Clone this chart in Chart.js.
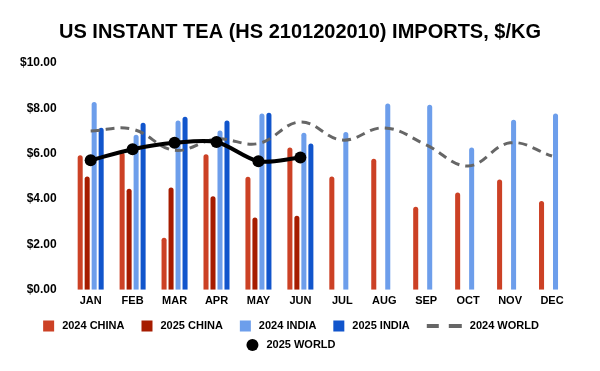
<!DOCTYPE html>
<html>
<head>
<meta charset="utf-8">
<script src="https://cdn.jsdelivr.net/npm/chart.js@4.4.1/dist/chart.umd.min.js"></script>
<style>
  html, body { margin: 0; padding: 0; background: #fff; }
  #wrap { width: 600px; height: 371px; }
</style>
</head>
<body>
<div id="wrap"><canvas id="teaChart"></canvas></div>
<script>
var months = ['JAN', 'FEB', 'MAR', 'APR', 'MAY', 'JUN', 'JUL', 'AUG', 'SEP', 'OCT', 'NOV', 'DEC'];
var china2024 = [5.93, 6.05, 2.3, 5.98, 4.98, 6.27, 5.0, 5.78, 3.66, 4.29, 4.86, 3.92];
var china2025 = [5.0, 4.46, 4.51, 4.13, 3.19, 3.27, null, null, null, null, null, null];
var india2024 = [8.28, 6.84, 7.46, 7.02, 7.77, 6.93, 6.96, 8.21, 8.16, 6.27, 7.5, 7.77];
var india2025 = [7.14, 7.37, 7.63, 7.46, 7.81, 6.45, null, null, null, null, null, null];
var world2024 = [7.0, 7.08, 6.15, 6.65, 6.45, 7.4, 6.6, 7.14, 6.39, 5.46, 6.48, 5.9];
var world2025 = [5.71, 6.2, 6.48, 6.52, 5.67, 5.83, null, null, null, null, null, null];
var yTicks = [0, 2, 4, 6, 8, 10];

var fontFam = "'Liberation Sans', Arial, sans-serif";

function barSet(label, data, color) {
    return {
        label: label,
        data: data,
        backgroundColor: color,
        borderRadius: { topLeft: 3, topRight: 3 },
        borderSkipped: 'bottom',
        order: 3
    };
}

// keep the title centred on the whole canvas
var titleCenter = {
    id: 'titleCenter',
    afterLayout: function (chart) {
        var t = chart.titleBlock;
        t.left = 0;
        t.right = chart.width;
        t.width = chart.width;
    }
};

// legend drawn by hand so each key can have its own width
var bottomLegend = {
    id: 'bottomLegend',
    afterDraw: function (chart) {
        var g = chart.ctx;
        var sets = chart.data.datasets;
        var rows = [[0, 1, 2, 3, 4], [5]];
        var rowY = [326, 345];
        g.save();
        g.font = 'bold 11px ' + fontFam;
        g.textBaseline = 'middle';
        g.textAlign = 'left';
        rows.forEach(function (row, r) {
            var widths = row.map(function (i) {
                var iw = sets[i].type === 'line' ? (sets[i].borderDash ? 35 : 12) : 11;
                return { icon: iw, text: g.measureText(sets[i].label).width };
            });
            var total = 0;
            widths.forEach(function (w, k) { total += w.icon + 8 + w.text + (k ? 17 : 0); });
            var x = chart.width / 2 - 9 - total / 2;
            var y = rowY[r];
            row.forEach(function (i, k) {
                var ds = sets[i];
                var w = widths[k];
                if (ds.type !== 'line') {
                    g.fillStyle = ds.backgroundColor;
                    g.fillRect(x, y - 5.5, 11, 11);
                } else if (ds.borderDash) {
                    g.fillStyle = ds.borderColor;
                    g.fillRect(x, y - 2, 12, 4);
                    g.fillRect(x + 22, y - 2, 13, 4);
                } else {
                    g.fillStyle = ds.borderColor;
                    g.beginPath();
                    g.arc(x + 6, y, 6, 0, Math.PI * 2);
                    g.fill();
                }
                g.fillStyle = '#000';
                g.fillText(ds.label, x + w.icon + 8, y);
                x += w.icon + 8 + w.text + 17;
            });
        });
        g.restore();
    }
};

var ctx = document.getElementById('teaChart');
var myChart = new Chart(ctx, {
    type: 'bar',
    data: {
        labels: months,
        datasets: [
            barSet('2024 CHINA', china2024, '#cc4125'),
            barSet('2025 CHINA', china2025, '#a61c00'),
            barSet('2024 INDIA', india2024, '#6d9eeb'),
            barSet('2025 INDIA', india2025, '#1155cc'),
            {
                type: 'line',
                label: '2024 WORLD',
                data: world2024,
                borderColor: '#666666',
                backgroundColor: '#666666',
                borderWidth: 3,
                borderDash: [9, 6],
                pointRadius: 0,
                tension: 0.4,
                fill: false,
                order: 2
            },
            {
                type: 'line',
                label: '2025 WORLD',
                data: world2025,
                borderColor: '#000000',
                backgroundColor: '#000000',
                borderWidth: 4,
                pointRadius: 6,
                pointBackgroundColor: '#000000',
                pointBorderWidth: 0,
                tension: 0.3,
                fill: false,
                order: 1
            }
        ]
    },
    plugins: [titleCenter, bottomLegend],
    options: {
        responsive: true,
        maintainAspectRatio: false,
        animation: false,
        layout: { padding: { left: 7, right: 27, top: 0, bottom: 58 } },
        datasets: {
            bar: { categoryPercentage: 0.667, barPercentage: 0.72 }
        },
        plugins: {
            title: {
                display: true,
                text: 'US INSTANT TEA (HS 2101202010) IMPORTS, $/KG',
                color: '#000',
                font: { family: fontFam, size: 20, weight: 'bold' },
                padding: { top: 20, bottom: 19 }
            },
            legend: { display: false },
            tooltip: { enabled: false }
        },
        scales: {
            x: {
                grid: { display: false, drawTicks: false },
                border: { display: false },
                ticks: { color: '#000', font: { family: fontFam, size: 11, weight: 'bold' }, padding: 5 }
            },
            y: {
                min: 0,
                max: 10,
                grid: { display: false, drawTicks: false },
                border: { display: false },
                afterBuildTicks: function (axis) {
                    axis.ticks = yTicks.map(function (v) { return { value: v }; });
                },
                ticks: {
                    color: '#000',
                    font: { family: fontFam, size: 12, weight: 'bold' },
                    padding: 13,
                    callback: function (v) { return '$' + Number(v).toFixed(2); }
                }
            }
        }
    }
});
</script>
</body>
</html>
